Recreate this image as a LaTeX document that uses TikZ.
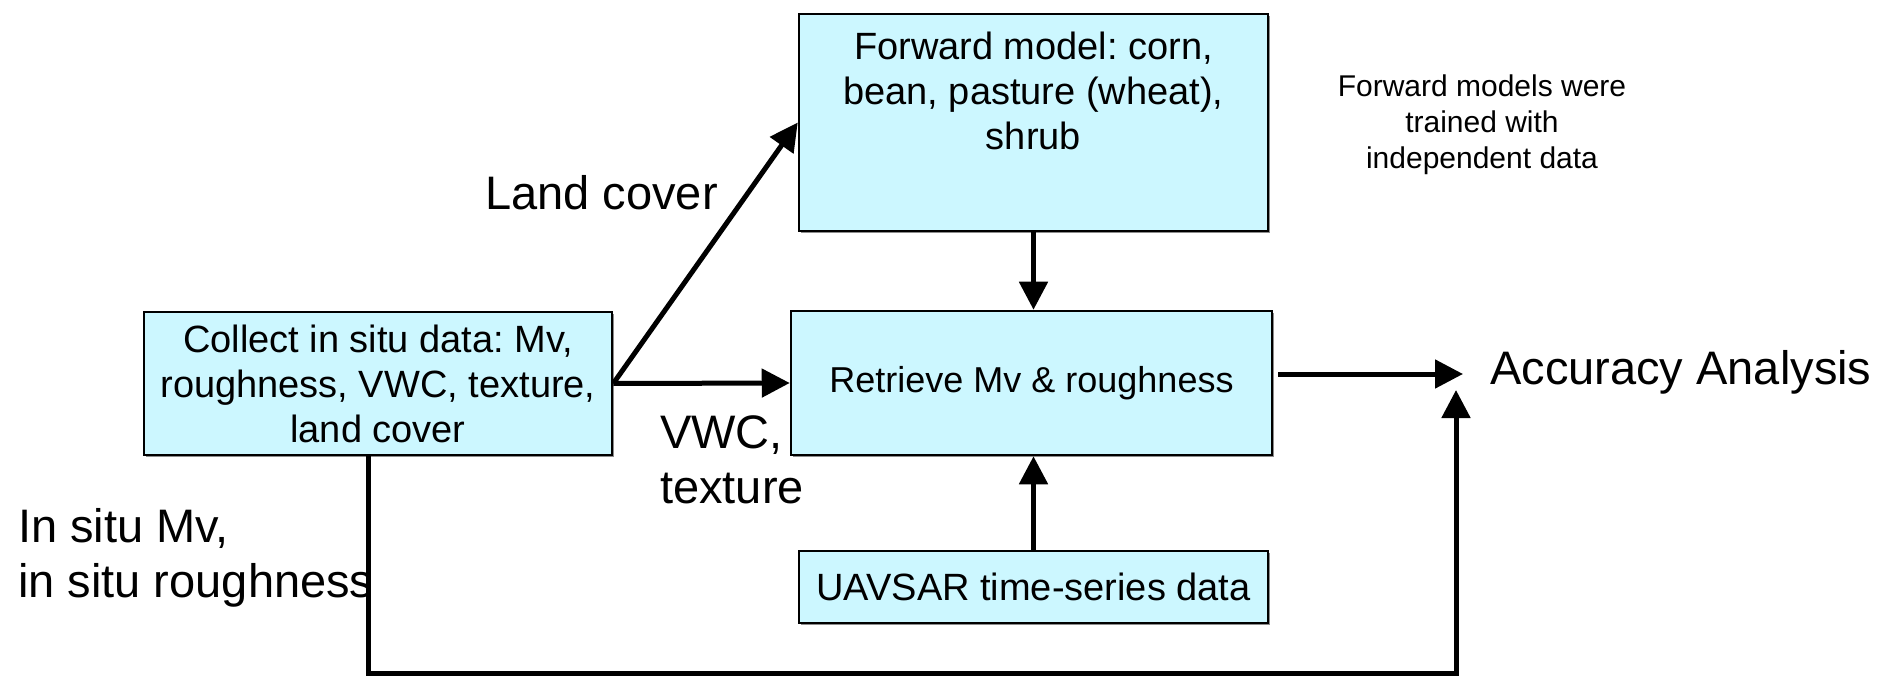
\documentclass[tikz,border=0pt]{standalone}
\usepackage{fontspec}
\setmainfont{Liberation Sans}
\usetikzlibrary{arrows.meta,shadows}
\definecolor{boxfill}{RGB}{204,247,255}
\frenchspacing
\begin{document}
\begin{tikzpicture}[x=1pt,y=-1pt,
  box/.style={draw=black, line width=2.5pt, fill=boxfill, inner sep=0pt,
    drop shadow={shadow xshift=2pt, shadow yshift=-2pt, fill=black!45, opacity=1}},
  boxtext/.style={font=\fontsize{38}{45}\selectfont, align=center},
  lbl/.style={font=\fontsize{47}{55}\selectfont, align=left, inner sep=0pt},
  note/.style={font=\fontsize{30}{36}\selectfont, align=center, inner sep=0pt},
  conn/.style={line width=5pt, -{Triangle[length=28pt,width=28pt]}},
  plain/.style={line width=5pt}
]
\useasboundingbox (0,0) rectangle (1883,679);

% boxes
\node[box, minimum width=469pt, minimum height=217pt] (fwd) at (1033.5,122.5)
  {\parbox[c][217pt][t]{460pt}{\centering\frenchspacing\fontsize{38}{45}\selectfont\vspace*{18pt}Forward model: corn,\\ bean, pasture (wheat),\\ shrub}};
\node[box, boxtext, minimum width=468pt, minimum height=143pt] (col) at (378,383.5)
  {Collect in situ data: Mv,\\ roughness, VWC, texture,\\ land cover};
\node[box, boxtext, font=\fontsize{36}{43}\selectfont, minimum width=481pt, minimum height=144pt] (ret) at (1031.5,383)
  {Retrieve Mv \& roughness};
\node[box, boxtext, minimum width=469pt, minimum height=72pt] (uav) at (1033.5,587)
  {UAVSAR time-series data};

% labels
\node[lbl, anchor=north west] (lc) at (485,175) {Land cover};
\node[lbl, anchor=north west] (vwc) at (660,415) {VWC,\\texture};
\node[lbl, anchor=north west] (ins) at (18,508) {In situ Mv,\\in situ roughness};
\node[lbl, anchor=north west] (acc) at (1490,350) {Accuracy Analysis};
\node[note, anchor=north] (nt) at (1482,75) {Forward models were\\trained with\\independent data};

% coordinates
\coordinate (ra) at (1278,374);
\coordinate (ta) at (1463,374);
\coordinate (b1) at (368,673);
\coordinate (b2) at (1456,673);
\coordinate (tb) at (1456,390);

% connectors
\draw[conn] (col.east) -- (fwd.west);
\draw[conn] (col.east) -- (ret.west);
\draw[conn] (fwd.south) -- (fwd.south |- ret.north);
\draw[conn] (uav.north) -- (uav.north |- ret.south);
\draw[conn] (ra) -- (ta);
\draw[conn] (col.south -| b1) -- (b1) -- (b2) -- (tb);
\end{tikzpicture}
\end{document}
